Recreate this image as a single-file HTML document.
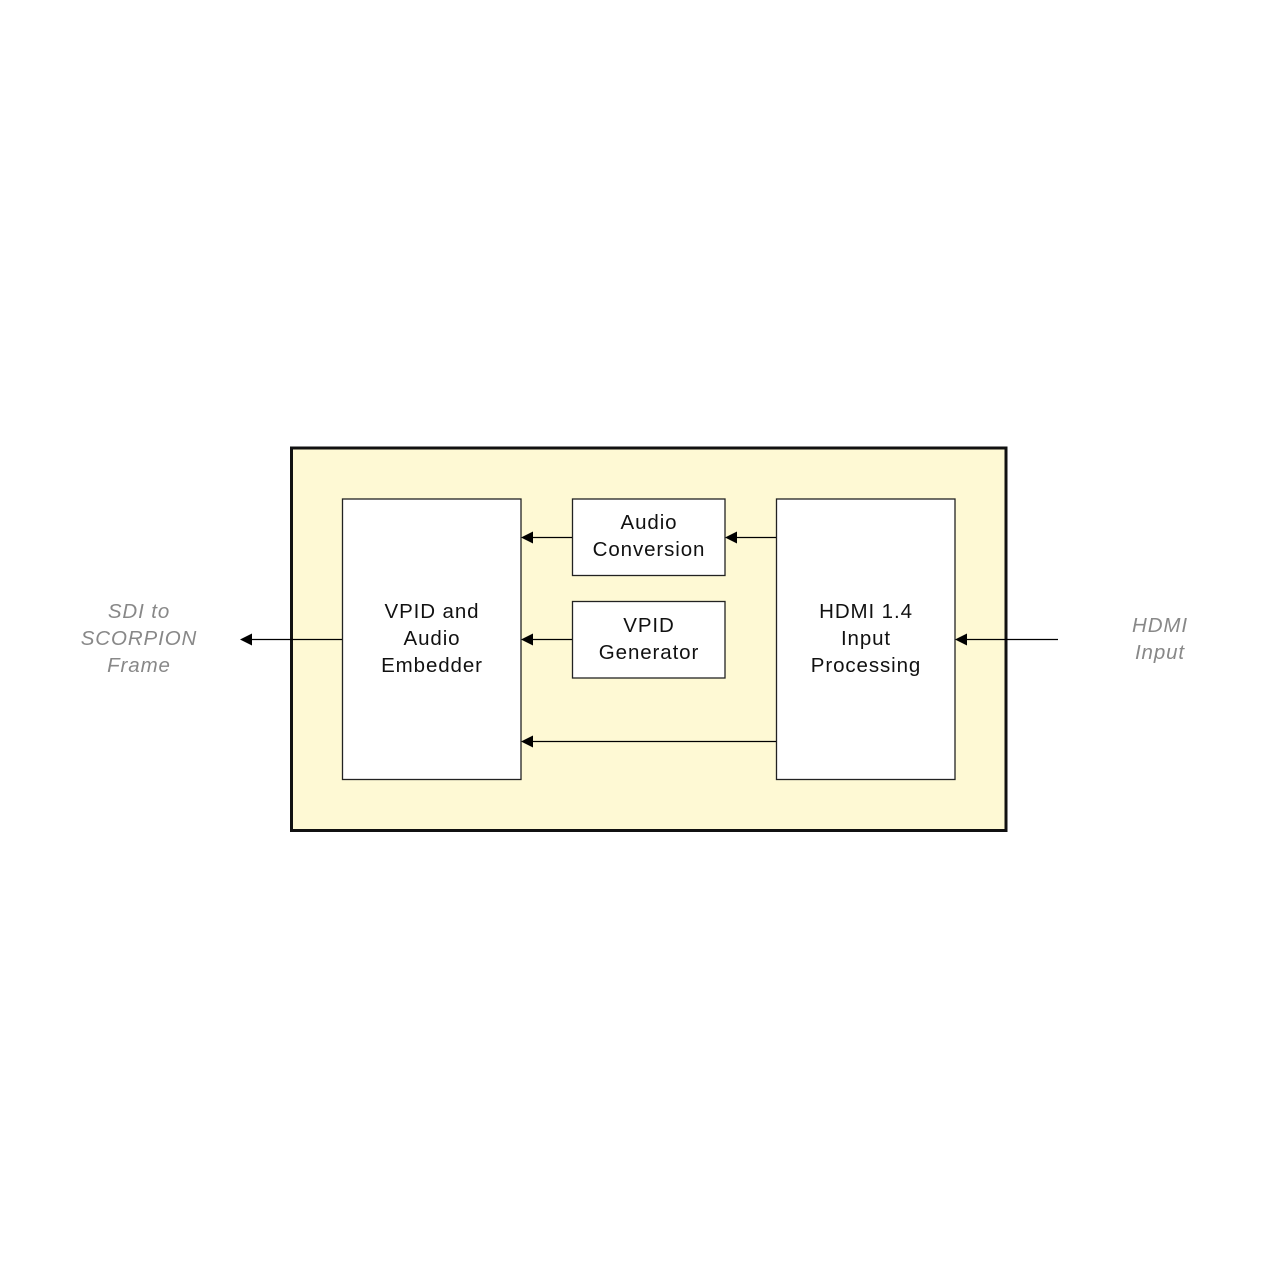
<!DOCTYPE html>
<html><head><style>body{margin:0;background:#fff}</style></head><body>
<svg width="1280" height="1280" xmlns="http://www.w3.org/2000/svg" font-family="Liberation Sans, sans-serif" font-size="20.5" letter-spacing="0.9">
<rect width="1280" height="1280" fill="#fff"/>
<rect x="291.5" y="448" width="714.5" height="382.5" fill="#fef9d4" stroke="#111" stroke-width="3"/>
<g fill="#fff" stroke="#222" stroke-width="1.3">
<rect x="342.5" y="499" width="178.5" height="280.5"/>
<rect x="776.5" y="499" width="178.5" height="280.5"/>
<rect x="572.5" y="499" width="152.5" height="76.5"/>
<rect x="572.5" y="601.5" width="152.5" height="76.5"/>
</g>
<g stroke="#000" stroke-width="1.2">
<line x1="533" y1="537.5" x2="572" y2="537.5"/>
<line x1="737" y1="537.5" x2="776" y2="537.5"/>
<line x1="533" y1="639.5" x2="572" y2="639.5"/>
<line x1="533" y1="741.5" x2="776" y2="741.5"/>
<line x1="252" y1="639.5" x2="342" y2="639.5"/>
<line x1="967" y1="639.5" x2="1058" y2="639.5"/>
</g>
<g fill="#000">
<polygon points="521,537.5 533,531.5 533,543.5"/>
<polygon points="725,537.5 737,531.5 737,543.5"/>
<polygon points="521,639.5 533,633.5 533,645.5"/>
<polygon points="521,741.5 533,735.5 533,747.5"/>
<polygon points="240,639.5 252,633.5 252,645.5"/>
<polygon points="955,639.5 967,633.5 967,645.5"/>
</g>
<g text-anchor="middle" fill="#111">
<text x="432" y="618">VPID and</text><text x="432" y="645">Audio</text><text x="432" y="672">Embedder</text>
<text x="866" y="618">HDMI 1.4</text><text x="866" y="645">Input</text><text x="866" y="672">Processing</text>
<text x="649" y="529">Audio</text><text x="649" y="556">Conversion</text>
<text x="649" y="632">VPID</text><text x="649" y="659">Generator</text>
</g>
<g text-anchor="middle" fill="#888" font-style="italic">
<text x="139" y="618">SDI to</text><text x="139" y="645">SCORPION</text><text x="139" y="672">Frame</text>
<text x="1160" y="632">HDMI</text><text x="1160" y="659">Input</text>
</g>
</svg>
</body></html>
